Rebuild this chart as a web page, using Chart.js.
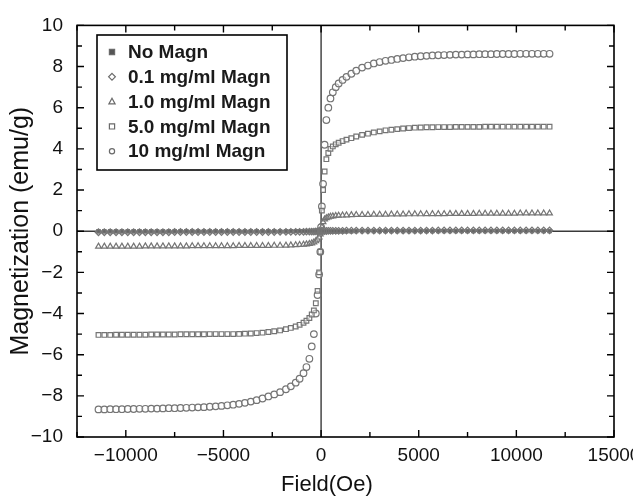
<!DOCTYPE html>
<html>
<head>
<meta charset="utf-8">
<script src="https://cdn.jsdelivr.net/npm/chart.js@4/dist/chart.umd.min.js"></script>
<style>
  html, body { margin: 0; padding: 0; background: #fff; overflow: hidden; }
  #wrap { width: 650px; height: 496px; }
</style>
</head>
<body>
<div id="wrap"><canvas id="magChart"></canvas></div>
<script>
// field sweep (Oe)
const field = [
  -11400, -11100, -10800, -10500, -10200, -9900, -9600, -9300, -9000, -8700,
  -8400, -8100, -7800, -7500, -7200, -6900, -6600, -6300, -6000, -5700,
  -5400, -5100, -4800, -4500, -4200, -3900, -3600, -3300, -3000,
  -2700, -2400, -2100, -1800, -1550, -1300, -1100, -900, -750, -600,
  -480, -370, -270, -180, -100, -40,
  0,
  40, 100, 180, 270, 370, 480, 600, 750, 900, 1100,
  1300, 1550, 1800, 2100, 2400, 2700,
  3000, 3300, 3600, 3900, 4200, 4500, 4800, 5100, 5400, 5700,
  6000, 6300, 6600, 6900, 7200, 7500, 7800, 8100, 8400, 8700,
  9000, 9300, 9600, 9900, 10200, 10500, 10800, 11100, 11400, 11700
];

const labels = ['No Magn', '0.1 mg/ml Magn', '1.0 mg/ml Magn', '5.0 mg/ml Magn', '10 mg/ml Magn'];

const xTicks = [-10000, -5000, 0, 5000, 10000, 15000];
const yTicks = [-10, -8, -6, -4, -2, 0, 2, 4, 6, 8, 10];

const noMagn = [
  -0.01, -0.01, -0.01, -0.01, -0.01, -0.01, -0.01, -0.01, -0.01, -0.01,
  -0.01, -0.01, -0.01, -0.01, -0.01, -0.01, -0.01, -0.01, -0.01, -0.01,
  -0.01, -0.01, -0.01, -0.01, -0.01, -0.01, -0.01, -0.01, -0.01,
  -0.01, -0.01, -0.01, -0.01, 0, 0, 0, 0, 0, 0,
  0, 0, 0, 0, 0, 0,
  0,
  0, 0, 0, 0, 0, 0, 0, 0, 0, 0,
  0, 0, 0.01, 0.01, 0.01, 0.01,
  0.01, 0.01, 0.01, 0.01, 0.01, 0.01, 0.01, 0.01, 0.01, 0.01,
  0.01, 0.01, 0.01, 0.01, 0.01, 0.01, 0.01, 0.01, 0.01, 0.01,
  0.01, 0.01, 0.01, 0.01, 0.01, 0.01, 0.01, 0.01, 0.01, 0.01
];

const magn01 = [
  -0.05, -0.05, -0.05, -0.05, -0.05, -0.05, -0.05, -0.05, -0.05, -0.05,
  -0.05, -0.05, -0.05, -0.04, -0.04, -0.04, -0.04, -0.04, -0.04, -0.04,
  -0.04, -0.04, -0.04, -0.04, -0.04, -0.04, -0.04, -0.04, -0.04,
  -0.04, -0.04, -0.03, -0.03, -0.03, -0.03, -0.03, -0.03, -0.02, -0.02,
  -0.02, -0.02, -0.01, -0.01, -0.01, -0.01,
  0,
  0.01, 0.01, 0.01, 0.01, 0.02, 0.02, 0.02, 0.02, 0.02, 0.02,
  0.03, 0.03, 0.03, 0.03, 0.03, 0.03,
  0.03, 0.03, 0.03, 0.03, 0.03, 0.03, 0.03, 0.03, 0.03, 0.03,
  0.04, 0.04, 0.04, 0.04, 0.04, 0.04, 0.04, 0.04, 0.04, 0.04,
  0.04, 0.04, 0.04, 0.04, 0.04, 0.04, 0.04, 0.04, 0.04, 0.04
];

const magn10 = [
  -0.74, -0.74, -0.74, -0.74, -0.74, -0.74, -0.74, -0.74, -0.73, -0.73,
  -0.73, -0.73, -0.73, -0.73, -0.73, -0.73, -0.72, -0.72, -0.72, -0.72,
  -0.72, -0.72, -0.72, -0.72, -0.71, -0.71, -0.71, -0.71, -0.71,
  -0.71, -0.7, -0.7, -0.69, -0.68, -0.67, -0.66, -0.65, -0.63, -0.61,
  -0.58, -0.54, -0.48, -0.4, -0.3, -0.15,
  0,
  0.2, 0.45, 0.58, 0.64, 0.68, 0.71, 0.73, 0.75, 0.76, 0.77,
  0.78, 0.79, 0.8, 0.8, 0.8, 0.81,
  0.81, 0.81, 0.82, 0.82, 0.82, 0.83, 0.83, 0.83, 0.84, 0.84,
  0.84, 0.84, 0.85, 0.85, 0.85, 0.85, 0.85, 0.86, 0.86, 0.86,
  0.86, 0.86, 0.86, 0.86, 0.87, 0.87, 0.87, 0.87, 0.87, 0.87
];

const magn50 = [
  -5.04, -5.04, -5.04, -5.03, -5.03, -5.03, -5.03, -5.03, -5.03, -5.02,
  -5.02, -5.02, -5.02, -5.02, -5.01, -5.01, -5.01, -5.01, -5.01, -5.0,
  -5.0, -5.0, -5.0, -5.0, -4.99, -4.98, -4.97, -4.95, -4.93,
  -4.9, -4.86, -4.82, -4.76, -4.7, -4.63, -4.55, -4.45, -4.35, -4.22,
  -4.05, -3.85, -3.5, -2.9, -2.0, -1.0,
  0.05,
  1.0, 2.0, 2.9, 3.5, 3.8, 4.0, 4.12, 4.22, 4.3, 4.38,
  4.45, 4.52, 4.6, 4.68, 4.74, 4.8,
  4.85, 4.9, 4.93, 4.96, 4.99, 5.01, 5.03, 5.04, 5.05, 5.05,
  5.06, 5.06, 5.06, 5.07, 5.07, 5.07, 5.07, 5.07, 5.08, 5.08,
  5.08, 5.08, 5.08, 5.08, 5.08, 5.08, 5.08, 5.08, 5.08, 5.08
];

const magn100 = [
  -8.66, -8.66, -8.65, -8.65, -8.65, -8.64, -8.64, -8.63, -8.63, -8.62,
  -8.62, -8.61, -8.6, -8.6, -8.59, -8.58, -8.57, -8.56, -8.55, -8.53,
  -8.51, -8.49, -8.46, -8.43, -8.39, -8.34, -8.28, -8.21, -8.13,
  -8.03, -7.93, -7.82, -7.68, -7.54, -7.36, -7.17, -6.9, -6.6, -6.2,
  -5.6, -5.0, -4.0, -3.1, -2.1, -1.0,
  0.2,
  1.2, 2.3, 4.2, 5.4, 6.0, 6.45, 6.75, 7.0, 7.18, 7.35,
  7.5, 7.65, 7.8, 7.95, 8.05, 8.15,
  8.22, 8.28, 8.32, 8.37, 8.41, 8.45, 8.48, 8.5, 8.52, 8.54,
  8.55, 8.56, 8.57, 8.58, 8.58, 8.59, 8.59, 8.6, 8.6, 8.6,
  8.61, 8.61, 8.61, 8.61, 8.62, 8.62, 8.62, 8.62, 8.62, 8.62
];

const seriesValues = [noMagn, magn01, magn10, magn50, magn100];
const pointStyles = ['rect', 'rectRot', 'triangle', 'rect', 'circle'];

const FONT = '"Liberation Sans", Arial, Helvetica, sans-serif';
Chart.defaults.font.family = FONT;
Chart.defaults.color = '#111';

const fmt = v => (v < 0 ? '\u2212' + Math.abs(v) : String(v));

function drawMarker(ctx, style, x, y, r, filled) {
  ctx.beginPath();
  if (style === 'rect') {
    ctx.rect(x - r, y - r, 2 * r, 2 * r);
  } else if (style === 'rectRot') {
    ctx.moveTo(x, y - r * 1.3); ctx.lineTo(x + r * 1.3, y);
    ctx.lineTo(x, y + r * 1.3); ctx.lineTo(x - r * 1.3, y); ctx.closePath();
  } else if (style === 'triangle') {
    ctx.moveTo(x, y - r * 1.3); ctx.lineTo(x + r * 1.2, y + r * 0.9);
    ctx.lineTo(x - r * 1.2, y + r * 0.9); ctx.closePath();
  } else {
    ctx.arc(x, y, r, 0, Math.PI * 2);
  }
  if (filled) ctx.fill();
  ctx.stroke();
}

const framePlugin = {
  id: 'framePlugin',
  beforeDatasetsDraw(chart) {
    const { ctx, chartArea: a, scales: { x, y } } = chart;
    const x0 = x.getPixelForValue(0), y0 = y.getPixelForValue(0);
    ctx.save();
    ctx.strokeStyle = '#3a3a3a';
    ctx.lineWidth = 1.4;
    ctx.beginPath();
    ctx.moveTo(a.left, y0); ctx.lineTo(a.right, y0);
    ctx.moveTo(x0, a.top); ctx.lineTo(x0, a.bottom);
    ctx.stroke();
    ctx.restore();
  },
  afterDraw(chart) {
    const { ctx, chartArea: a, scales: { x, y } } = chart;
    ctx.save();
    ctx.strokeStyle = '#000';
    ctx.lineWidth = 1.6;
    ctx.strokeRect(a.left, a.top, a.right - a.left, a.bottom - a.top);

    // inward ticks on all four sides
    ctx.lineWidth = 1.4;
    ctx.beginPath();
    for (let v = -12500; v <= 15000; v += 2500) {
      const px = x.getPixelForValue(v);
      const len = v % 5000 === 0 ? 7 : 5;
      ctx.moveTo(px, a.bottom); ctx.lineTo(px, a.bottom - len);
      ctx.moveTo(px, a.top); ctx.lineTo(px, a.top + len);
    }
    for (let v = -10; v <= 10; v += 1) {
      const py = y.getPixelForValue(v);
      const len = v % 2 === 0 ? 7 : 5;
      ctx.moveTo(a.left, py); ctx.lineTo(a.left + len, py);
      ctx.moveTo(a.right, py); ctx.lineTo(a.right - len, py);
    }
    ctx.stroke();

    // x axis title, sits a little left of the plot centre in the original
    ctx.fillStyle = '#111';
    ctx.font = '22px ' + FONT;
    ctx.textAlign = 'center';
    ctx.textBaseline = 'middle';
    ctx.fillText('Field(Oe)', x.getPixelForValue(300), 485);

    // legend box inside the plot
    const bx = 97, by = 35, bw = 190, bh = 135;
    ctx.fillStyle = '#fff';
    ctx.fillRect(bx, by, bw, bh);
    ctx.strokeStyle = '#000';
    ctx.lineWidth = 1.6;
    ctx.strokeRect(bx, by, bw, bh);
    ctx.font = 'bold 19px ' + FONT;
    ctx.textAlign = 'left';
    chart.data.datasets.forEach((ds, i) => {
      const cy = by + 17 + i * 24.8;
      ctx.strokeStyle = '#6a6a6a';
      ctx.fillStyle = i === 0 ? '#555' : '#fff';
      ctx.lineWidth = 1.2;
      drawMarker(ctx, pointStyles[i], bx + 15, cy, 2.6, true);
      ctx.fillStyle = '#1a1a1a';
      ctx.fillText(ds.label, bx + 31, cy + 1);
    });
    ctx.restore();
  }
};

const datasets = seriesValues.map((vals, i) => ({
  label: labels[i],
  data: field.map((f, j) => ({ x: f, y: vals[j] })),
  showLine: false,
  pointStyle: pointStyles[i],
  pointRadius: i === 0 ? 2.4 : 3.3,
  pointBorderWidth: 1.2,
  pointBorderColor: '#757575',
  pointBackgroundColor: i === 0 ? '#666' : 'rgba(255,255,255,0.5)'
}));

new Chart(document.getElementById('magChart'), {
  type: 'scatter',
  data: { datasets },
  options: {
    responsive: true,
    maintainAspectRatio: false,
    animation: false,
    layout: { padding: { top: 19, right: 36, left: 0, bottom: 0 } },
    plugins: {
      legend: { display: false },
      tooltip: { enabled: false }
    },
    scales: {
      x: {
        type: 'linear',
        min: -12500,
        max: 15000,
        grid: { display: false, drawTicks: false },
        border: { display: false },
        afterBuildTicks: s => { s.ticks = xTicks.map(v => ({ value: v })); },
        ticks: {
          autoSkip: false,
          maxRotation: 0,
          padding: 7,
          color: '#111',
          font: { size: 19 },
          callback: v => fmt(v)
        },
        title: { display: false },
        afterFit: s => { s.height = 59; }
      },
      y: {
        min: -10,
        max: 10,
        grid: { display: false, drawTicks: false },
        border: { display: false },
        afterBuildTicks: s => { s.ticks = yTicks.map(v => ({ value: v })); },
        ticks: {
          autoSkip: false,
          padding: 14,
          color: '#111',
          font: { size: 19 },
          callback: v => fmt(v)
        },
        title: {
          display: true,
          text: 'Magnetization (emu/g)',
          color: '#111',
          font: { size: 25 },
          padding: { top: 6, bottom: 0 }
        },
        afterFit: s => { s.width = 77; }
      }
    }
  },
  plugins: [framePlugin]
});
</script>
</body>
</html>
